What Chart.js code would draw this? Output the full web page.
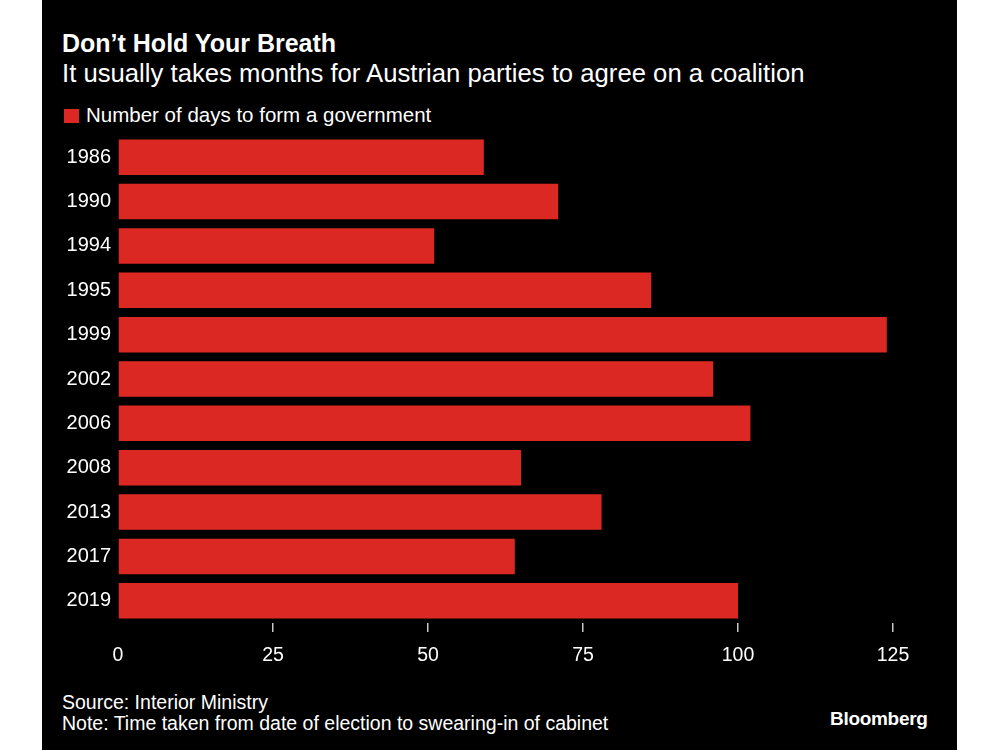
<!DOCTYPE html>
<html>
<head>
<meta charset="utf-8">
<script src="https://cdn.jsdelivr.net/npm/chart.js@4/dist/chart.umd.min.js"></script>
<style>
  html, body { margin: 0; padding: 0; background: #ffffff; width: 1000px; height: 750px; overflow: hidden; }
  #panel { position: absolute; left: 42px; top: 0; width: 915px; height: 750px; background: #000000; }
  .txt { position: absolute; color: #ffffff; font-family: "Liberation Sans", Arial, sans-serif; white-space: nowrap; line-height: 1; }
  #title { left: 20px; top: 31px; font-size: 25px; font-weight: bold; }
  #subtitle { left: 20px; top: 60.5px; font-size: 25.7px; }
  #legend { left: 44px; top: 104.6px; font-size: 20.5px; }
  #sw { position: absolute; left: 22px; top: 108.5px; width: 15px; height: 14px; background: #dc2823; }
  #source { left: 20px; top: 692.5px; font-size: 19.5px; }
  #note { left: 20px; top: 713.5px; font-size: 19.5px; }
  #brand { left: 788px; top: 709px; font-size: 19px; font-weight: bold; letter-spacing: -0.3px; }
  #wrap { position: absolute; left: 0; top: 116px; width: 915px; height: 557px; }
</style>
</head>
<body>
<div id="panel">
  <div class="txt" id="title">Don’t Hold Your Breath</div>
  <div class="txt" id="subtitle">It usually takes months for Austrian parties to agree on a coalition</div>
  <div id="sw"></div>
  <div class="txt" id="legend">Number of days to form a government</div>
  <div id="wrap"><canvas id="c" width="915" height="557"></canvas></div>
  <div class="txt" id="source">Source: Interior Ministry</div>
  <div class="txt" id="note">Note: Time taken from date of election to swearing-in of cabinet</div>
  <div class="txt" id="brand">Bloomberg</div>
</div>
<script>
const years = ["1986", "1990", "1994", "1995", "1999", "2002", "2006", "2008", "2013", "2017", "2019"];
const days = [59, 71, 51, 86, 124, 96, 102, 65, 78, 64, 100];
const xTicks = [0, 25, 50, 75, 100, 125];
const seriesName = "Number of days to form a government";

const FONT = "'Liberation Sans', Arial, sans-serif";

new Chart(document.getElementById('c'), {
  type: 'bar',
  data: {
    labels: years,
    datasets: [{
      label: seriesName,
      data: days,
      backgroundColor: '#dc2823',
      borderWidth: 0,
      barPercentage: 0.8,
      categoryPercentage: 1.0
    }]
  },
  options: {
    indexAxis: 'y',
    responsive: false,
    animation: false,
    devicePixelRatio: 1,
    layout: { padding: { top: 7, right: 33, left: 0, bottom: 0 } },
    plugins: { legend: { display: false }, tooltip: { enabled: false }, title: { display: false } },
    scales: {
      x: {
        type: 'linear',
        min: 0,
        max: 130,
        border: { display: false },
        grid: {
          drawOnChartArea: false,
          drawTicks: true,
          tickLength: 9,
          lineWidth: 1.5,
          color: (ctx) => (ctx.tick && ctx.tick.value === 0) ? 'rgba(0,0,0,0)' : '#c8c8c8'
        },
        afterBuildTicks: (s) => { s.ticks = xTicks.map(v => ({ value: v })); },
        afterFit: (s) => { s.height = 50; },
        ticks: { color: '#ffffff', font: { family: FONT, size: 19.5 }, padding: 12, maxRotation: 0 }
      },
      y: {
        border: { display: false },
        grid: { display: false, drawTicks: false },
        afterFit: (s) => { s.width = 76; },
        ticks: { color: '#ffffff', font: { family: FONT, size: 20 }, padding: 7 }
      }
    }
  }
});
</script>
</body>
</html>
